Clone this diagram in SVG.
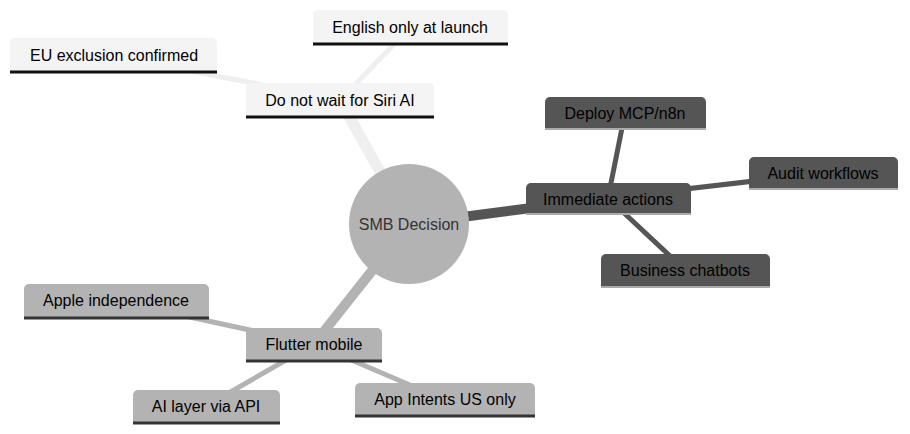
<svg xmlns="http://www.w3.org/2000/svg" width="910" height="434" viewBox="0 0 910 434">
<style>
text{font-family:"Liberation Sans",Arial,sans-serif;font-size:16px;text-anchor:middle;dominant-baseline:central;fill:#000}
.l0{fill:#f4f4f4}.l1{fill:#555}.l2{fill:#b3b3b3}
.b0{stroke:#111;stroke-width:3}.b1{stroke:#aaa;stroke-width:2}.b2{stroke:#333;stroke-width:3}
.e{fill:none;stroke-linecap:butt}
</style>
<rect width="910" height="434" fill="#fff"/>
<g id="connectors">
<line class="e" x1="409" y1="224" x2="340" y2="100" stroke="#efefef" stroke-width="11"/>
<line class="e" x1="340" y1="100" x2="410" y2="28" stroke="#efefef" stroke-width="5"/>
<line class="e" x1="340" y1="100" x2="114" y2="56" stroke="#efefef" stroke-width="5"/>
<line class="e" x1="409" y1="224" x2="608" y2="198" stroke="#555" stroke-width="10"/>
<line class="e" x1="608" y1="198" x2="625" y2="113" stroke="#555" stroke-width="5"/>
<line class="e" x1="608" y1="198" x2="823" y2="173" stroke="#555" stroke-width="5"/>
<line class="e" x1="608" y1="198" x2="685" y2="270" stroke="#555" stroke-width="5"/>
<line class="e" x1="409" y1="224" x2="314" y2="344" stroke="#b3b3b3" stroke-width="10"/>
<line class="e" x1="314" y1="344" x2="116" y2="301" stroke="#b3b3b3" stroke-width="5"/>
<line class="e" x1="314" y1="344" x2="206" y2="406" stroke="#b3b3b3" stroke-width="5"/>
<line class="e" x1="314" y1="344" x2="445" y2="400" stroke="#b3b3b3" stroke-width="5"/>
</g>
<g id="root"><circle cx="409" cy="224" r="60" fill="#b3b3b3"/><text x="409" y="224" style="fill:#333">SMB Decision</text></g>
<g id="siri"><path class="l0" d="M246,117V88a5,5 0 0 1 5,-5H429a5,5 0 0 1 5,5V117Z"/><line class="b0" x1="246" y1="117" x2="434" y2="117"/><text x="340" y="100">Do not wait for Siri AI</text></g>
<g id="english"><path class="l0" d="M313,44V15a5,5 0 0 1 5,-5H503a5,5 0 0 1 5,5V44Z"/><line class="b0" x1="313" y1="44" x2="508" y2="44"/><text x="410" y="27">English only at launch</text></g>
<g id="eu"><path class="l0" d="M10,72V43a5,5 0 0 1 5,-5H212a5,5 0 0 1 5,5V72Z"/><line class="b0" x1="10" y1="72" x2="217" y2="72"/><text x="114" y="55">EU exclusion confirmed</text></g>
<g id="immediate"><path class="l1" d="M526,214V188a5,5 0 0 1 5,-5H686a5,5 0 0 1 5,5V214Z"/><line class="b1" x1="526" y1="214" x2="691" y2="214"/><text x="608" y="199">Immediate actions</text></g>
<g id="deploy"><path class="l1" d="M545,129V102a5,5 0 0 1 5,-5H701a5,5 0 0 1 5,5V129Z"/><line class="b1" x1="545" y1="129" x2="706" y2="129"/><text x="625" y="113">Deploy MCP/n8n</text></g>
<g id="audit"><path class="l1" d="M749,189V162a5,5 0 0 1 5,-5H893a5,5 0 0 1 5,5V189Z"/><line class="b1" x1="749" y1="189" x2="898" y2="189"/><text x="823" y="173">Audit workflows</text></g>
<g id="chatbots"><path class="l1" d="M601,287V259a5,5 0 0 1 5,-5H765a5,5 0 0 1 5,5V287Z"/><line class="b1" x1="601" y1="287" x2="770" y2="287"/><text x="685" y="270">Business chatbots</text></g>
<g id="flutter"><path class="l2" d="M246,361V333a5,5 0 0 1 5,-5H377a5,5 0 0 1 5,5V361Z"/><line class="b2" x1="246" y1="361" x2="382" y2="361"/><text x="314" y="344">Flutter mobile</text></g>
<g id="apple"><path class="l2" d="M24,318V289a5,5 0 0 1 5,-5H204a5,5 0 0 1 5,5V318Z"/><line class="b2" x1="24" y1="318" x2="209" y2="318"/><text x="116" y="300">Apple independence</text></g>
<g id="ailayer"><path class="l2" d="M133,423V395a5,5 0 0 1 5,-5H275a5,5 0 0 1 5,5V423Z"/><line class="b2" x1="133" y1="423" x2="280" y2="423"/><text x="206" y="406">AI layer via API</text></g>
<g id="intents"><path class="l2" d="M355,416V388a5,5 0 0 1 5,-5H530a5,5 0 0 1 5,5V416Z"/><line class="b2" x1="355" y1="416" x2="535" y2="416"/><text x="445" y="399">App Intents US only</text></g>
</svg>
